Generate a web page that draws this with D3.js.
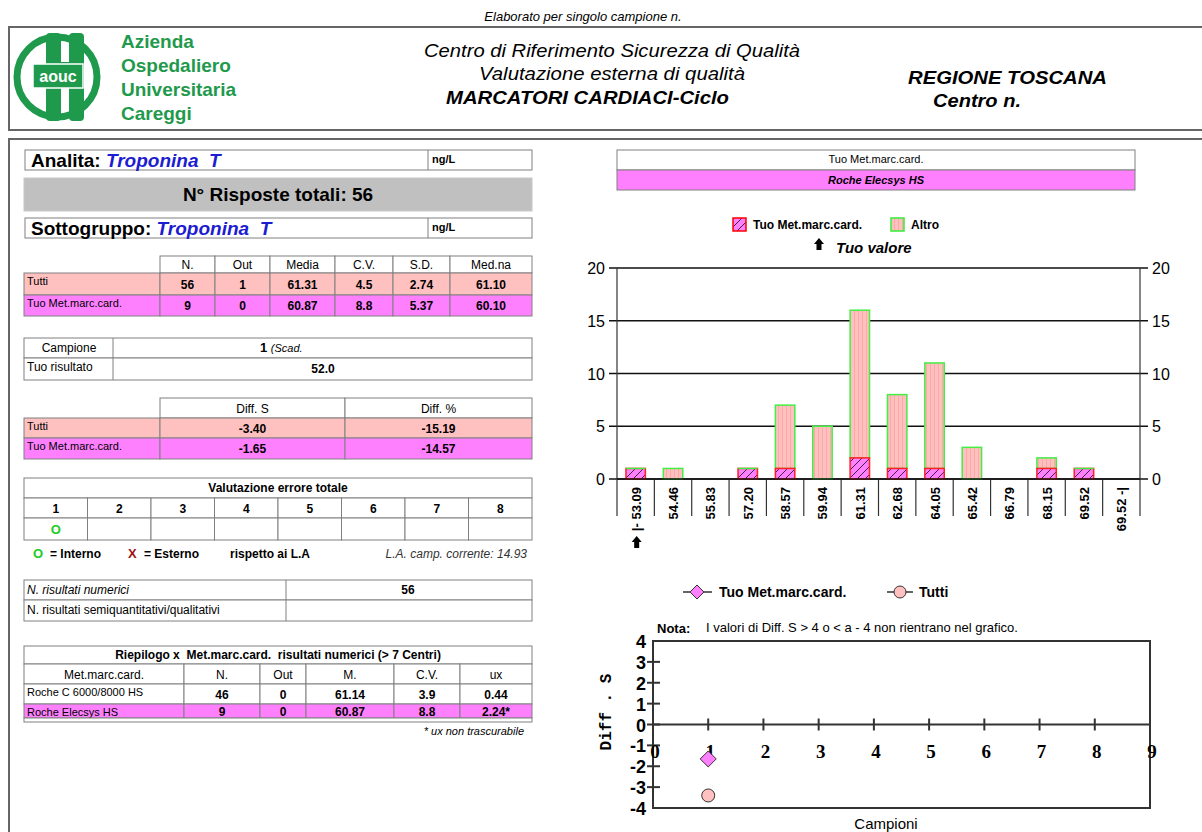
<!DOCTYPE html>
<html>
<head>
<meta charset="utf-8">
<script src="https://cdn.jsdelivr.net/npm/d3@7"></script>
<style>
  body { margin: 0; background: #fff; }
  svg { display: block; font-family: "Liberation Sans", Arial, sans-serif; }
</style>
</head>
<body>
<div id="page"></div>
<script>
// ---- data ----
var binLabels = ["|- 53.09", "54.46", "55.83", "57.20", "58.57", "59.94", "61.31",
                 "62.68", "64.05", "65.42", "66.79", "68.15", "69.52", "69.52 -|"];
var tuoCounts = [1, 0, 0, 1, 1, 0, 2, 1, 1, 0, 0, 1, 1, 0];
var altroCounts = [0, 1, 0, 0, 6, 5, 14, 7, 10, 3, 0, 1, 0, 0];
var histTicks = [0, 5, 10, 15, 20];
var yourBin = 0;

var statsCols = ["N.", "Out", "Media", "C.V.", "S.D.", "Med.na"];
var statsTutti = ["56", "1", "61.31", "4.5", "2.74", "61.10"];
var statsTuo = ["9", "0", "60.87", "8.8", "5.37", "60.10"];

var diffCols = ["Diff. S", "Diff. %"];
var diffTutti = ["-3.40", "-15.19"];
var diffTuo = ["-1.65", "-14.57"];

var errCols = ["1", "2", "3", "4", "5", "6", "7", "8"];
var errMarks = ["O", "", "", "", "", "", "", ""];

var riepCols = ["Met.marc.card.", "N.", "Out", "M.", "C.V.", "ux"];
var riepRows = [
  ["Roche C 6000/8000 HS", "46", "0", "61.14", "3.9", "0.44"],
  ["Roche Elecsys HS", "9", "0", "60.87", "8.8", "2.24*"]
];

var campioni = [1];
var diffSTuo = [-1.65];
var diffSTutti = [-3.40];
var diffTicksY = [-4, -3, -2, -1, 0, 1, 2, 3, 4];
var diffTicksX = [0, 1, 2, 3, 4, 5, 6, 7, 8, 9];

// ---- page ----
var W = 1202, H = 832;
var green = "#1f9a4c", pink = "#ffc0c0", magenta = "#ff80ff", grid = "#808080";
var nb = "\u00a0";

var svg = d3.select("#page").append("svg")
    .attr("width", W).attr("height", H);

var defs = svg.append("defs");
var hatch = defs.append("pattern").attr("id", "hatch")
    .attr("patternUnits", "userSpaceOnUse").attr("width", 8).attr("height", 8);
hatch.append("rect").attr("width", 8).attr("height", 8).attr("fill", magenta);
hatch.append("path").attr("d", "M-2,2 L2,-2 M0,8 L8,0 M6,10 L10,6")
    .attr("stroke", "#442244").attr("stroke-width", 1);
var stripes = defs.append("pattern").attr("id", "stripes")
    .attr("patternUnits", "userSpaceOnUse").attr("width", 4).attr("height", 4);
stripes.append("rect").attr("width", 4).attr("height", 4).attr("fill", pink);
stripes.append("rect").attr("x", 2).attr("width", 1).attr("height", 4).attr("fill", "#ffa8a8");

function text(g, x, y, s, size, opt) {
  opt = opt || {};
  var t = g.append("text").attr("x", x).attr("y", y).text(s)
    .attr("font-size", size)
    .attr("text-anchor", opt.anchor || "start")
    .attr("fill", opt.fill || "#000");
  if (opt.bold) t.attr("font-weight", "bold");
  if (opt.italic) t.attr("font-style", "italic");
  if (opt.len) t.attr("textLength", opt.len).attr("lengthAdjust", "spacingAndGlyphs");
  if (opt.family) t.attr("font-family", opt.family);
  return t;
}
function box(g, x, y, w, h, fill, stroke) {
  return g.append("rect").attr("x", x).attr("y", y).attr("width", w).attr("height", h)
    .attr("fill", fill || "none").attr("stroke", stroke || grid).attr("stroke-width", 1);
}

// header frame
text(svg, 583, 21, "Elaborato per singolo campione n.", 13, {anchor: "middle", italic: true});
svg.append("rect").attr("x", 9).attr("y", 27).attr("width", 1200).attr("height", 103)
  .attr("fill", "none").attr("stroke", "#666").attr("stroke-width", 2);
svg.append("path").attr("d", "M9,832 V139 H1210")
  .attr("fill", "none").attr("stroke", "#666").attr("stroke-width", 2);

// logo
var logo = svg.append("g");
logo.append("circle").attr("cx", 57).attr("cy", 77).attr("r", 40)
  .attr("fill", "none").attr("stroke", green).attr("stroke-width", 7);
logo.append("rect").attr("x", 46).attr("y", 33).attr("width", 15).attr("height", 88).attr("rx", 4).attr("fill", green);
logo.append("rect").attr("x", 69).attr("y", 33).attr("width", 15).attr("height", 88).attr("rx", 4).attr("fill", green);
logo.append("rect").attr("x", 46).attr("y", 62).attr("width", 38).attr("height", 14).attr("fill", green);
logo.append("rect").attr("x", 33).attr("y", 64).attr("width", 50).attr("height", 24)
  .attr("fill", green).attr("stroke", "#fff").attr("stroke-width", 1.5);
text(logo, 58, 82, "aouc", 16, {anchor: "middle", bold: true, fill: "#fff"});
["Azienda", "Ospedaliero", "Universitaria", "Careggi"].forEach(function (s, i) {
  text(svg, 121, 48 + i * 24, s, 19, {bold: true, fill: green});
});

text(svg, 612, 57, "Centro di Riferimento Sicurezza di Qualità", 19, {anchor: "middle", italic: true, len: 376});
text(svg, 612, 80, "Valutazione esterna di qualità", 19, {anchor: "middle", italic: true, len: 266});
text(svg, 446, 104, "MARCATORI CARDIACI-Ciclo", 19, {bold: true, italic: true, len: 283});
text(svg, 908, 84, "REGIONE TOSCANA", 19, {bold: true, italic: true, len: 199});
text(svg, 933, 107, "Centro n.", 19, {bold: true, italic: true, len: 88});

// ---- left column ----
var L = svg.append("g");
var blue = "#1c1cd0";
box(L, 25, 150, 507, 20, "#fff");
L.append("line").attr("x1", 428).attr("x2", 428).attr("y1", 150).attr("y2", 170).attr("stroke", grid);
var t1 = text(L, 31, 167, "Analita:" + nb, 19, {bold: true});
t1.append("tspan").text("Troponina" + nb + nb + "T").attr("fill", blue).attr("font-style", "italic");
text(L, 432, 163, "ng/L", 11, {bold: true});

box(L, 24, 178, 508, 33, "#c0c0c0", "#c8c8c8");
text(L, 278, 201, "N° Risposte totali: 56", 19, {anchor: "middle", bold: true});

box(L, 25, 218, 507, 20, "#fff");
L.append("line").attr("x1", 428).attr("x2", 428).attr("y1", 218).attr("y2", 238).attr("stroke", grid);
var t2 = text(L, 31, 235, "Sottogruppo:" + nb, 19, {bold: true});
t2.append("tspan").text("Troponina" + nb + nb + "T").attr("fill", blue).attr("font-style", "italic");
text(L, 432, 231, "ng/L", 11, {bold: true});

// generic table row drawer
function row(g, xs, y0, y1, values, fill, opt) {
  opt = opt || {};
  for (var i = 0; i < values.length; i++) {
    if (opt.skipFirst && i === 0) continue;
    box(g, xs[i], y0, xs[i + 1] - xs[i], y1 - y0, (opt.fills && opt.fills[i]) || fill || "#fff");
    if (values[i] === "") continue;
    if (opt.leftFirst && i === 0) {
      text(g, xs[0] + 3, y0 + 12, values[i], 11, {italic: opt.italicFirst});
    } else {
      text(g, (xs[i] + xs[i + 1]) / 2, y0 + (y1 - y0) / 2 + 4.5, values[i], opt.size || 12,
        {anchor: "middle", bold: opt.bold, fill: opt.color});
    }
  }
}

// stats table
var statXs = [24, 160, 215, 270, 335, 393, 450, 532];
row(L, statXs, 256, 273, [""].concat(statsCols), "#fff", {skipFirst: true});
row(L, statXs, 273, 295, ["Tutti"].concat(statsTutti), pink, {bold: true, leftFirst: true});
row(L, statXs, 295, 316, ["Tuo Met.marc.card."].concat(statsTuo), magenta, {bold: true, leftFirst: true});

// campione table
box(L, 24, 338, 508, 20, "#fff");
box(L, 24, 358, 508, 22, "#fff");
L.append("line").attr("x1", 113).attr("x2", 113).attr("y1", 338).attr("y2", 380).attr("stroke", grid);
text(L, 69, 352, "Campione", 12, {anchor: "middle"});
var tc = text(L, 260, 352, "1" + nb, 13, {bold: true});
tc.append("tspan").text("(Scad.").attr("font-weight", "normal").attr("font-style", "italic").attr("font-size", 11);
text(L, 27, 371, "Tuo risultato", 12);
text(L, 323, 373, "52.0", 12, {anchor: "middle", bold: true});

// diff table
var diffXs = [24, 160, 345, 532];
row(L, diffXs, 398, 418, [""].concat(diffCols), "#fff", {skipFirst: true});
row(L, diffXs, 418, 438, ["Tutti"].concat(diffTutti), pink, {bold: true, leftFirst: true});
row(L, diffXs, 438, 459, ["Tuo Met.marc.card."].concat(diffTuo), magenta, {bold: true, leftFirst: true});

// valutazione errore totale
var errXs = d3.range(9).map(function (i) { return 24 + i * 508 / 8; });
box(L, 24, 478, 508, 20, "#fff");
text(L, 278, 492, "Valutazione errore totale", 12, {anchor: "middle", bold: true});
row(L, errXs, 498, 518, errCols, "#fff", {bold: true});
row(L, errXs, 518, 540, errMarks, "#fff", {bold: true, color: "#22cc22", size: 13});
text(L, 33, 558, "O", 13, {bold: true, fill: "#22cc22"});
text(L, 50, 558, "= Interno", 12, {bold: true});
text(L, 128, 558, "X", 13, {bold: true, fill: "#a01010"});
text(L, 144, 558, "= Esterno", 12, {bold: true});
text(L, 230, 558, "rispetto ai L.A", 12, {bold: true});
text(L, 527, 558, "L.A. camp. corrente: 14.93", 12, {anchor: "end", italic: true, fill: "#333"});

// N. risultati
box(L, 24, 580, 508, 20, "#fff");
box(L, 24, 600, 508, 21, "#fff");
L.append("line").attr("x1", 286).attr("x2", 286).attr("y1", 580).attr("y2", 621).attr("stroke", grid);
text(L, 27, 594, "N. risultati numerici", 12, {italic: true});
text(L, 408, 594, "56", 12, {anchor: "middle", bold: true});
text(L, 27, 614, "N. risultati semiquantitativi/qualitativi", 12);

// riepilogo
var riepXs = [24, 184, 260, 306, 394, 460, 532];
box(L, 24, 646, 508, 18, "#fff");
text(L, 278, 659, "Riepilogo x" + nb + nb + "Met.marc.card." + nb + nb + "risultati numerici (> 7 Centri)", 12, {anchor: "middle", bold: true});
row(L, riepXs, 664, 684, riepCols, "#fff", {});
riepRows.forEach(function (r, i) {
  var y0 = i === 0 ? 684 : 704, y1 = i === 0 ? 704 : 718;
  row(L, riepXs, y0, y1, r, i === 1 ? magenta : "#fff", {bold: true, leftFirst: true});
});
box(L, 24, 718, 508, 4, "#fff");
text(L, 524, 735, "* ux non trascurabile", 11, {anchor: "end", italic: true});

// ---- right column: histogram ----
var R = svg.append("g");
box(R, 617, 150, 518, 20, "#fff");
text(R, 876, 163, "Tuo Met.marc.card.", 11, {anchor: "middle"});
box(R, 617, 170, 518, 20, magenta);
text(R, 876, 184, "Roche Elecsys HS", 11, {anchor: "middle", bold: true, italic: true});

// legend
R.append("rect").attr("x", 733).attr("y", 218).attr("width", 13).attr("height", 13)
  .attr("fill", "url(#hatch)").attr("stroke", "#ff0000").attr("stroke-width", 1.5);
text(R, 753, 229, "Tuo Met.marc.card.", 12, {bold: true});
R.append("rect").attr("x", 891).attr("y", 218).attr("width", 13).attr("height", 13)
  .attr("fill", "url(#stripes)").attr("stroke", "#33ee33").attr("stroke-width", 1.5);
text(R, 911, 229, "Altro", 12, {bold: true});

var arrowPath = "M0,-7 L5,-1 L2.5,-1 L2.5,5 L-2.5,5 L-2.5,-1 L-5,-1 Z";
R.append("path").attr("d", arrowPath).attr("transform", "translate(819,245)").attr("fill", "#000");
text(R, 836, 253, "Tuo valore", 15, {bold: true, italic: true});

var hx = d3.scaleBand().domain(d3.range(binLabels.length)).range([617, 1140])
  .paddingInner(0.48).paddingOuter(0.24);
var hy = d3.scaleLinear().domain([0, 20]).range([479, 268]);
var step = hx.step();

// gridlines and ticks
R.selectAll(".grid").data(histTicks).enter().append("line")
  .attr("x1", 609).attr("x2", 1148)
  .attr("y1", function (d) { return hy(d); }).attr("y2", function (d) { return hy(d); })
  .attr("stroke", "#111").attr("stroke-width", 1.5);
R.selectAll(".yl").data(histTicks).enter().append("text")
  .attr("x", 605).attr("y", function (d) { return hy(d) + 6; })
  .attr("text-anchor", "end").attr("font-size", 16).text(function (d) { return d; });
R.selectAll(".yr").data(histTicks).enter().append("text")
  .attr("x", 1152).attr("y", function (d) { return hy(d) + 6; })
  .attr("font-size", 16).text(function (d) { return d; });

// axis verticals and bin dividers
R.selectAll(".div").data(d3.range(binLabels.length + 1)).enter().append("line")
  .attr("x1", function (i) { return 617 + i * step; })
  .attr("x2", function (i) { return 617 + i * step; })
  .attr("y1", function (i) { return (i === 0 || i === binLabels.length) ? hy(20) : hy(0); })
  .attr("y2", 516)
  .attr("stroke", "#333").attr("stroke-width", 1.2);

// bars
var bars = binLabels.map(function (l, i) { return {i: i, tuo: tuoCounts[i], altro: altroCounts[i]}; });
R.selectAll(".altro").data(bars.filter(function (d) { return d.altro > 0; })).enter().append("rect")
  .attr("x", function (d) { return hx(d.i); }).attr("width", hx.bandwidth())
  .attr("y", function (d) { return hy(d.tuo + d.altro); })
  .attr("height", function (d) { return hy(d.tuo) - hy(d.tuo + d.altro); })
  .attr("fill", "url(#stripes)").attr("stroke", "#44ee44").attr("stroke-width", 1.5);
R.selectAll(".tuo").data(bars.filter(function (d) { return d.tuo > 0; })).enter().append("rect")
  .attr("x", function (d) { return hx(d.i); }).attr("width", hx.bandwidth())
  .attr("y", function (d) { return hy(d.tuo); })
  .attr("height", function (d) { return hy(0) - hy(d.tuo); })
  .attr("fill", "url(#hatch)").attr("stroke", "#ff2020").attr("stroke-width", 1.5);
R.selectAll(".tuoTop").data(bars.filter(function (d) { return d.tuo > 0 && d.altro === 0; })).enter().append("line")
  .attr("x1", function (d) { return hx(d.i); }).attr("x2", function (d) { return hx(d.i) + hx.bandwidth(); })
  .attr("y1", function (d) { return hy(d.tuo); }).attr("y2", function (d) { return hy(d.tuo); })
  .attr("stroke", "#44ee44").attr("stroke-width", 1.5);
R.append("line").attr("x1", 617).attr("x2", 1140).attr("y1", hy(0)).attr("y2", hy(0))
  .attr("stroke", "#111").attr("stroke-width", 1.5);

// bin labels
R.selectAll(".bl").data(binLabels).enter().append("text")
  .attr("transform", function (d, i) {
    return "translate(" + (hx(i) + hx.bandwidth() / 2 + 5) + ",487) rotate(-90)";
  })
  .attr("text-anchor", "end").attr("font-size", 13).attr("font-weight", "bold")
  .text(function (d) { return d; });
R.append("path").attr("d", arrowPath)
  .attr("transform", "translate(" + (hx(yourBin) + hx.bandwidth() / 2 + 1) + ",543)").attr("fill", "#000");

// ---- Diff. S chart ----
var D = svg.append("g");
D.append("line").attr("x1", 683).attr("x2", 712).attr("y1", 592).attr("y2", 592).attr("stroke", "#333").attr("stroke-width", 1.5);
D.append("path").attr("d", "M0,-7 L7,0 L0,7 L-7,0 Z").attr("transform", "translate(697,592)")
  .attr("fill", magenta).attr("stroke", "#333");
text(D, 719, 597, "Tuo Met.marc.card.", 14, {bold: true});
D.append("line").attr("x1", 887).attr("x2", 913).attr("y1", 592).attr("y2", 592).attr("stroke", "#333").attr("stroke-width", 1.5);
D.append("circle").attr("cx", 900).attr("cy", 592).attr("r", 6).attr("fill", pink).attr("stroke", "#333");
text(D, 919, 597, "Tutti", 14, {bold: true});

text(D, 657, 633, "Nota:", 13, {bold: true});
text(D, 706, 632, "I valori di Diff. S > 4 o < a - 4 non rientrano nel grafico.", 13);

var dx = d3.scaleLinear().domain([0, 9]).range([653, 1150]);
var dy = d3.scaleLinear().domain([-4, 4]).range([808, 641]);
D.append("rect").attr("x", dx(0)).attr("y", dy(4)).attr("width", dx(9) - dx(0)).attr("height", dy(-4) - dy(4))
  .attr("fill", "#fff").attr("stroke", "#333").attr("stroke-width", 2);
D.append("line").attr("x1", dx(0)).attr("x2", dx(9)).attr("y1", dy(0)).attr("y2", dy(0))
  .attr("stroke", "#333").attr("stroke-width", 2);
D.selectAll(".xt").data(diffTicksX.slice(1, 9)).enter().append("line")
  .attr("x1", function (d) { return dx(d); }).attr("x2", function (d) { return dx(d); })
  .attr("y1", dy(0) - 6).attr("y2", dy(0) + 6).attr("stroke", "#333").attr("stroke-width", 2);
D.selectAll(".yt").data(diffTicksY.slice(1, 8)).enter().append("line")
  .attr("x1", dx(0) - 6).attr("x2", dx(0) + 7)
  .attr("y1", function (d) { return dy(d); }).attr("y2", function (d) { return dy(d); })
  .attr("stroke", "#333").attr("stroke-width", 2);
D.selectAll(".yl").data(diffTicksY).enter().append("text")
  .attr("x", 646).attr("y", function (d) { return dy(d) + 7; })
  .attr("text-anchor", "end").attr("font-size", 18).attr("font-weight", "bold")
  .attr("font-family", "Liberation Sans Narrow, Liberation Sans, sans-serif")
  .text(function (d) { return d; });
D.selectAll(".xl").data(diffTicksX).enter().append("text")
  .attr("x", function (d) { return dx(d) + 2; }).attr("y", dy(0) + 33)
  .attr("text-anchor", "middle").attr("font-size", 19).attr("font-weight", "bold")
  .attr("font-family", "Liberation Serif, serif")
  .text(function (d) { return d; });
D.append("text").attr("transform", "translate(611,712) rotate(-90)")
  .attr("text-anchor", "middle").attr("font-size", 16).attr("font-weight", "bold")
  .attr("font-family", "Liberation Mono, monospace").text("Diff" + nb + "." + nb + "S");
text(D, 886, 829, "Campioni", 15, {anchor: "middle"});

D.selectAll(".pTutti").data(campioni).enter().append("circle")
  .attr("cx", function (d) { return dx(d); }).attr("cy", function (d, i) { return dy(diffSTutti[i]); })
  .attr("r", 6.5).attr("fill", pink).attr("stroke", "#333");
D.selectAll(".pTuo").data(campioni).enter().append("path")
  .attr("d", "M0,-8 L8,0 L0,8 L-8,0 Z")
  .attr("transform", function (d, i) { return "translate(" + dx(d) + "," + dy(diffSTuo[i]) + ")"; })
  .attr("fill", magenta).attr("stroke", "#333");
</script>
</body>
</html>
